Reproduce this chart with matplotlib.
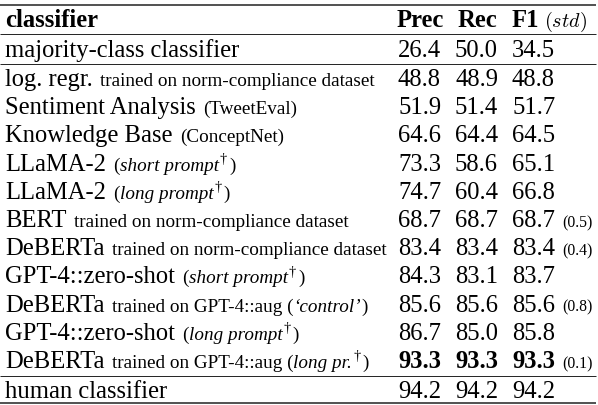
"""Classifier comparison table rendered as a figure."""

import matplotlib

matplotlib.use("Agg")
import matplotlib.pyplot as plt

# table contents
names = [
    "majority-class classifier",
    "log. regr.",
    "Sentiment Analysis",
    "Knowledge Base",
    "LLaMA-2",
    "LLaMA-2",
    "BERT",
    "DeBERTa",
    "GPT-4::zero-shot",
    "DeBERTa",
    "GPT-4::zero-shot",
    "DeBERTa",
    "human classifier",
]
# "_" toggles italics, "†" is set as a superscript
notes = [
    "",
    "trained on norm-compliance dataset",
    "(TweetEval)",
    "(ConceptNet)",
    "(_short prompt_†)",
    "(_long prompt_†)",
    "trained on norm-compliance dataset",
    "trained on norm-compliance dataset",
    "(_short prompt_†)",
    "trained on GPT-4::aug (_‘control’_)",
    "(_long prompt_†)",
    "trained on GPT-4::aug (_long pr._†)",
    "",
]
prec = [26.4, 48.8, 51.9, 64.6, 73.3, 74.7, 68.7, 83.4, 84.3, 85.6, 86.7, 93.3, 94.2]
rec = [50.0, 48.9, 51.4, 64.4, 58.6, 60.4, 68.7, 83.4, 83.1, 85.6, 85.0, 93.3, 94.2]
f1 = [34.5, 48.8, 51.7, 64.5, 65.1, 66.8, 68.7, 83.4, 83.7, 85.6, 85.8, 93.3, 94.2]
f1_std = [None, None, None, None, None, None, 0.5, 0.4, None, 0.8, None, 0.1, None]
headers = ["Prec", "Rec", "F1"]

W, H, DPI = 598, 406, 100
PX = 72 / DPI  # points per pixel
SERIF = "Liberation Serif"
MAIN, SMALL, TINY = 24.6, 19.2, 15.7  # font sizes in px

fig = plt.figure(figsize=(W / DPI, H / DPI), dpi=DPI)
ax = fig.add_axes([0, 0, 1, 1])
ax.set_xlim(0, W)
ax.set_ylim(H, 0)
ax.axis("off")
renderer = fig.canvas.get_renderer()


def put(x, y, s, size, style="normal", weight="normal", **kw):
    t = ax.text(x, y, s, fontsize=size * PX, family=SERIF, style=style,
                weight=weight, ha="left", va="baseline", color="black", **kw)
    return x + t.get_window_extent(renderer).width


def note_runs(note):
    runs, buf, italic = [], "", False
    for ch in note:
        if ch in "_†":
            if buf:
                runs.append((buf, italic, False))
                buf = ""
            if ch == "_":
                italic = not italic
            else:
                runs.append((ch, False, True))
        else:
            buf += ch
    if buf:
        runs.append((buf, italic, False))
    return runs


def draw_label(y, name, note):
    x = put(5, y, name, MAIN)
    if not note:
        return
    x += 0.3 * MAIN
    for text, italic, sup in note_runs(note):
        if sup:
            x = put(x + 1, y - 0.4 * SMALL, text, SMALL * 0.75) + 2
        else:
            x = put(x, y, text, SMALL, style="italic" if italic else "normal")


# row baselines (px from top)
n_mid = len(names) - 2
baselines = [57] + [86 + 28.2 * i for i in range(n_mid)] + [398]
num_x = [398, 455, 512]
head_x = [397, 458, 512]
best = max(range(len(names) - 1), key=lambda i: f1[i])

# header
put(5, 27, "classifier", MAIN, weight="bold")
for hx, h in zip(head_x, headers):
    end = put(hx, 27, h, MAIN, weight="bold")
ax.text(end + 4, 27, r"$(std)$", fontsize=20.2 * PX, math_fontfamily="cm",
        ha="left", va="baseline", color="black")

for i, y in enumerate(baselines):
    draw_label(y, names[i], notes[i])
    weight = "bold" if i == best else "normal"
    for cx, vals in zip(num_x, (prec, rec, f1)):
        end = put(cx, y, f"{vals[i]:.1f}", MAIN, weight=weight)
    if f1_std[i] is not None:
        put(end + 7, y, f"({f1_std[i]:.1f})", TINY)

# booktabs-style rules
for y, lw in [(6, 1.1), (35, 0.7), (65, 0.7), (377, 0.7), (404, 1.1)]:
    ax.hlines(y, 0, 596, color="#222222", linewidth=lw)

fig.savefig("out.png", dpi=DPI)
plt.close(fig)
